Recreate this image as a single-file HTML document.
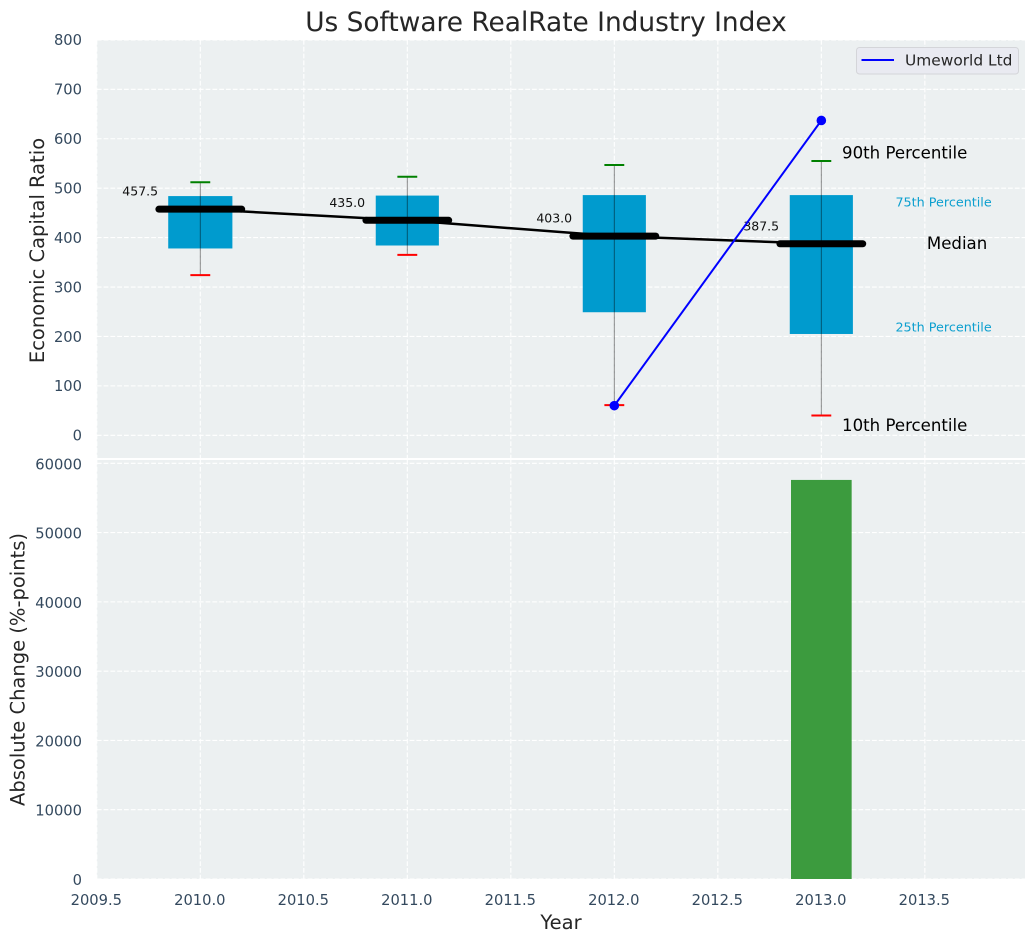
<!DOCTYPE html>
<html lang="en">
<head>
<meta charset="utf-8">
<title>Us Software RealRate Industry Index</title>
<style>
html,body{margin:0;padding:0;background:#fff;width:1036px;height:942px;overflow:hidden}
svg{display:block;font-family:"DejaVu Sans","Liberation Sans",sans-serif}
</style>
</head>
<body>
<svg id="chart" xmlns="http://www.w3.org/2000/svg" width="1036" height="942" viewBox="0 0 1036 942">
  <rect x="96.8" y="40" width="928.2" height="418" fill="#ecf0f1"/>
  <rect x="96.8" y="460" width="928.2" height="419" fill="#ecf0f1"/>
  <g id="grid"></g>
  <g id="marks"></g>
  <g id="axes"></g>
  <text x="546" y="31" text-anchor="middle" font-size="26.4" fill="#262626">Us Software RealRate Industry Index</text>
  <text transform="translate(44 250.5) rotate(-90)" text-anchor="middle" font-size="19.5" fill="#262626">Economic Capital Ratio</text>
  <text transform="translate(24.5 669.5) rotate(-90)" text-anchor="middle" font-size="19.5" fill="#262626">Absolute Change (%-points)</text>
  <text x="561" y="929" text-anchor="middle" font-size="19.5" fill="#262626">Year</text>
  <g>
    <rect x="856.5" y="47.5" width="162" height="26.5" rx="3" fill="#e9eaf1" stroke="#d4d5d9" stroke-width="1"/>
    <line x1="861.5" y1="60" x2="894" y2="60" stroke="#0000ff" stroke-width="2"/>
    <text x="905" y="65.5" font-size="15.4" fill="#262626">Umeworld Ltd</text>
  </g>
</svg>
<script>
const years = [2010, 2011, 2012, 2013];
const p90 = [512, 523, 547, 555];
const p75 = [484, 485, 486, 486];
const medians = [457.5, 435.0, 403.0, 387.5];
const p25 = [378, 384, 249, 205];
const p10 = [324, 365, 61, 40];
const boxWidths = [0.31, 0.305, 0.305, 0.305];
const companyYears = [2012, 2013];
const companyValues = [60, 637];
const changeYears = [2013];
const changeValues = [57600];
const changeBarWidth = 0.293;
const xTicks = [2009.5, 2010, 2010.5, 2011, 2011.5, 2012, 2012.5, 2013, 2013.5];
const upperTicks = [0, 100, 200, 300, 400, 500, 600, 700, 800];
const lowerTicks = [0, 10000, 20000, 30000, 40000, 50000, 60000];

const NS = 'http://www.w3.org/2000/svg';
const linear = (d0, d1, r0, r1) => v => r0 + (v - d0) * (r1 - r0) / (d1 - d0);
const x = linear(2009.5, 2013.98, 96.8, 1024.2);
const yUp = linear(0, 800, 435.3, 39.9);
const yLow = linear(0, 60000, 879, 463.3);
const grid = document.getElementById('grid');
const marks = document.getElementById('marks');
const axes = document.getElementById('axes');

function make(parent, tag, attrs, text) {
  const el = document.createElementNS(NS, tag);
  for (const k in attrs) el.setAttribute(k, attrs[k]);
  if (text !== undefined) el.textContent = text;
  parent.appendChild(el);
  return el;
}
const gridStyle = {stroke: '#ffffff', 'stroke-width': 1.1, 'stroke-dasharray': '4.8 2', fill: 'none'};
const tickStyle = {fill: '#34495e', 'font-size': 14.7};

xTicks.forEach(t => {
  const g1 = make(grid, 'line', {x1: x(t), x2: x(t), y1: 40, y2: 458, ...gridStyle});
  
  
  const g2 = make(grid, 'line', {x1: x(t), x2: x(t), y1: 460, y2: 879, ...gridStyle});
  
  
  const label = make(axes, 'text', {x: x(t) - 0.5, y: 905, 'text-anchor': 'middle', ...tickStyle}, t.toFixed(1));
  
  
});
upperTicks.forEach(t => {
  const g = make(grid, 'line', {x1: 96.8, x2: 1025, y1: yUp(t), y2: yUp(t), ...gridStyle});
  
  
  const label = make(axes, 'text', {x: 82, y: yUp(t) + 5.3, 'text-anchor': 'end', ...tickStyle}, String(t));
  
  
});
lowerTicks.forEach(t => {
  const g = make(grid, 'line', {x1: 96.8, x2: 1025, y1: yLow(t), y2: yLow(t), ...gridStyle});
  
  
  const label = make(axes, 'text', {x: 82, y: yLow(t) + 6, 'text-anchor': 'end', ...tickStyle}, String(t));
  
  
});

// percentile boxes
years.forEach((yr, i) => {
  const hw = boxWidths[i] / 2;
  const box = make(marks, 'rect', {x: x(yr - hw), y: yUp(p75[i]), width: x(yr + hw) - x(yr - hw), height: yUp(p25[i]) - yUp(p75[i]), fill: '#009bce'});
  
  
});
// whiskers and caps
years.forEach((yr, i) => {
  const w = make(marks, 'line', {x1: x(yr), x2: x(yr), y1: yUp(p90[i]), y2: yUp(p10[i]), stroke: '#000000', 'stroke-opacity': 0.45, 'stroke-width': 1});
  
  
  const hi = make(marks, 'line', {x1: x(yr - 0.048), x2: x(yr + 0.048), y1: yUp(p90[i]), y2: yUp(p90[i]), stroke: '#008000', 'stroke-width': 2});
  
  
  const lo = make(marks, 'line', {x1: x(yr - 0.048), x2: x(yr + 0.048), y1: yUp(p10[i]), y2: yUp(p10[i]), stroke: '#ff0000', 'stroke-width': 2});
  
  
});
// median trend
const trend = make(marks, 'polyline', {points: years.map((yr, i) => x(yr) + ',' + yUp(medians[i])).join(' '), fill: 'none', stroke: '#000000', 'stroke-width': 2.5});


years.forEach((yr, i) => {
  const m = make(marks, 'line', {x1: x(yr - 0.2), x2: x(yr + 0.2), y1: yUp(medians[i]), y2: yUp(medians[i]), stroke: '#000000', 'stroke-width': 7, 'stroke-linecap': 'round'});
  
  
  const t = make(marks, 'text', {x: x(yr) - 78, y: yUp(medians[i]) - 13.5, 'font-size': 12.5, fill: '#111111'}, medians[i].toFixed(1));
  
  
});
// company series
const company = make(marks, 'polyline', {points: companyYears.map((yr, i) => x(yr) + ',' + yUp(companyValues[i])).join(' '), fill: 'none', stroke: '#0000ff', 'stroke-width': 2});


companyYears.forEach((yr, i) => {
  const pt = make(marks, 'circle', {cx: x(yr), cy: yUp(companyValues[i]), r: 4.8, fill: '#0000ff'});
  
  
});
// absolute change bars
changeYears.forEach((yr, i) => {
  const bar = make(marks, 'rect', {x: x(yr - changeBarWidth / 2), y: yLow(changeValues[i]), width: x(yr + changeBarWidth / 2) - x(yr - changeBarWidth / 2), height: yLow(0) - yLow(changeValues[i]), fill: '#3c9b3e'});
  
  
});
// percentile annotations, anchored to the last year's box
const last = years.length - 1;
const a90 = make(marks, 'text', {x: x(years[last] + 0.1), y: yUp(p90[last]) - 2.5, 'font-size': 16.6, fill: '#000000'}, '90th Percentile');


const a75 = make(marks, 'text', {x: x(years[last] + 0.358), y: yUp(p75[last]) + 11.5, 'font-size': 12.75, fill: '#0c9fcf'}, '75th Percentile');


const a50 = make(marks, 'text', {x: x(years[last] + 0.51), y: yUp(medians[last]) + 5, 'font-size': 16.6, fill: '#000000'}, 'Median');


const a25 = make(marks, 'text', {x: x(years[last] + 0.358), y: yUp(p25[last]) - 2.5, 'font-size': 12.75, fill: '#0c9fcf'}, '25th Percentile');


const a10 = make(marks, 'text', {x: x(years[last] + 0.1), y: yUp(p10[last]) + 15.5, 'font-size': 16.6, fill: '#000000'}, '10th Percentile');


</script>
</body>
</html>
